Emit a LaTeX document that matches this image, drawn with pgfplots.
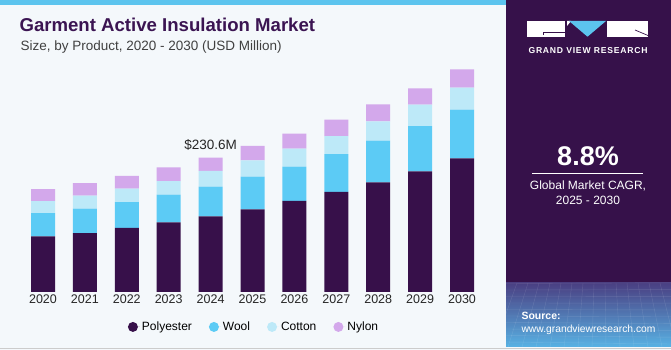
\documentclass[border=0pt]{standalone}
\usepackage{fontspec}
\setmainfont{Liberation Sans}
\usepackage{pgfplots}
\usepackage{pgfplotstable}
\pgfplotsset{compat=1.18}
\definecolor{poly}{HTML}{37104A}
\definecolor{wool}{HTML}{5CCBF5}
\definecolor{cotton}{HTML}{BDE9F8}
\definecolor{nylon}{HTML}{D3A8EB}
\definecolor{bg}{HTML}{F4F8FB}
\definecolor{panel}{HTML}{36114A}
\definecolor{panelmid}{HTML}{4A3F82}
\definecolor{panelbot}{HTML}{58B2E4}
\definecolor{titlec}{HTML}{3B1452}
\definecolor{stripe}{HTML}{5CC4EE}
\pgfplotstableread{
x poly wool cotton nylon
0 95.6 40.0 20.6 20.6
1 101.3 41.7 22.3 21.8
2 109.9 44.6 22.9 21.8
3 119.6 47.4 23.5 23.5
4 130.0 50.8 27.0 22.8
5 142.0 56.0 28.2 24.6
6 156.3 58.9 30.9 25.8
7 171.7 65.2 30.9 28.0
8 188.4 71.4 33.3 29.2
9 207.2 77.8 36.6 28.2
10 229.6 83.4 37.8 31.6
}\datatable
\begin{document}
\begin{tikzpicture}[x=1pt,y=1pt]
\useasboundingbox (0,0) rectangle (671,350);
% backgrounds
\fill[bg] (0,0) rectangle (671,350);
\fill[stripe] (0,345) rectangle (508,350);
% right panel
\fill[panel] (506,3) rectangle (671,350);
\shade[bottom color=panelbot, top color=panelmid] (506,3) rectangle (671,67);
\begin{scope}
\clip (506,3) rectangle (671,67);
\foreach \i in {0,...,16} {\draw[white,opacity=0.12,line width=0.4pt] (506+\i*11,67) -- (480+\i*14,3);}
\foreach \j in {0,...,9} {\draw[white,opacity=0.12,line width=0.4pt] (506,8+\j*6.5) -- (671,6+\j*6.8);}
\end{scope}
\draw[gray!40,line width=1.5pt] (0,1.5) -- (671,1.5);
% title
\node[anchor=base west,text=titlec,font=\fontsize{18.6}{20}\selectfont\bfseries] at (16,318) {Garment Active Insulation Market};
\node[anchor=base west,text=black!75,font=\fontsize{13.5}{15}\selectfont] at (17,299) {Size, by Product, 2020 - 2030 (USD Million)};
% logo
\fill[white] (527,313.3) rectangle (565,329);
\draw[panel,line width=0.7pt] (565,317.3) -- (543,317.3) -- (543,314.5);
\fill[white] (607,313.3) rectangle (648,329);
\draw[panel,line width=0.7pt] (648,314.5) -- (635,320);
\fill[white] (567,329) -- (571,329) -- (567,324) -- cycle;
\fill[stripe] (569,329) -- (606,329) -- (587.5,313.3) -- cycle;
\node[text=white,font=\fontsize{8.6}{9}\selectfont\bfseries\addfontfeatures{LetterSpace=9}] at (588,299) {GRAND VIEW RESEARCH};
% CAGR
\node[text=white,font=\fontsize{27}{30}\selectfont\bfseries] at (588,194) {8.8\%};
\draw[white,line width=0.8pt] (532,177) -- (643,177);
\node[text=white,font=\fontsize{12}{14}\selectfont,align=center] at (588,157) {Global Market CAGR,\\[1pt]2025 - 2030};
% source
\node[anchor=base west,text=white,font=\fontsize{10.5}{12}\selectfont\bfseries] at (518,30) {Source:};
\node[anchor=base west,text=white,font=\fontsize{10.3}{12}\selectfont] at (518,17) {www.grandviewresearch.com};
\begin{axis}[
  at={(1.1pt,58pt)}, anchor=south west,
  scale only axis, width=502.8pt, height=232.96pt,
  xmin=-1, xmax=11, ymin=0, ymax=400,
  ybar stacked, bar width=24pt,
  axis line style={draw=none}, tick style={draw=none},
  ytick=\empty,
  xtick={0,...,10},
  xticklabels={2020,2021,2022,2023,2024,2025,2026,2027,2028,2029,2030},
  xticklabel style={font=\fontsize{12.5}{14}\selectfont, text=black!85, yshift=1pt},
  clip=false,
  legend columns=4,
  legend style={draw=none, fill=none, at={(0.503,-0.15)}, anchor=center,
    font=\fontsize{12}{14}\selectfont,
    /tikz/every even column/.append style={column sep=15pt}},
  legend image code/.code={\fill[#1] (0pt,0pt) circle (5pt); \path (-5pt,0pt) -- (7pt,0pt);},
]
\addplot[fill=poly, draw=none] table[x=x,y=poly] {\datatable};
\addplot[fill=wool, draw=none] table[x=x,y=wool] {\datatable};
\addplot[fill=cotton, draw=none] table[x=x,y=cotton] {\datatable};
\addplot[fill=nylon, draw=none] table[x=x,y=nylon] {\datatable};
\legend{Polyester,Wool,Cotton,Nylon}
\node[anchor=south, font=\fontsize{13.5}{15}\selectfont, text=black!85] at (axis cs:4,230.6) [yshift=4pt] {\$230.6M};
\end{axis}
\end{tikzpicture}
\end{document}
